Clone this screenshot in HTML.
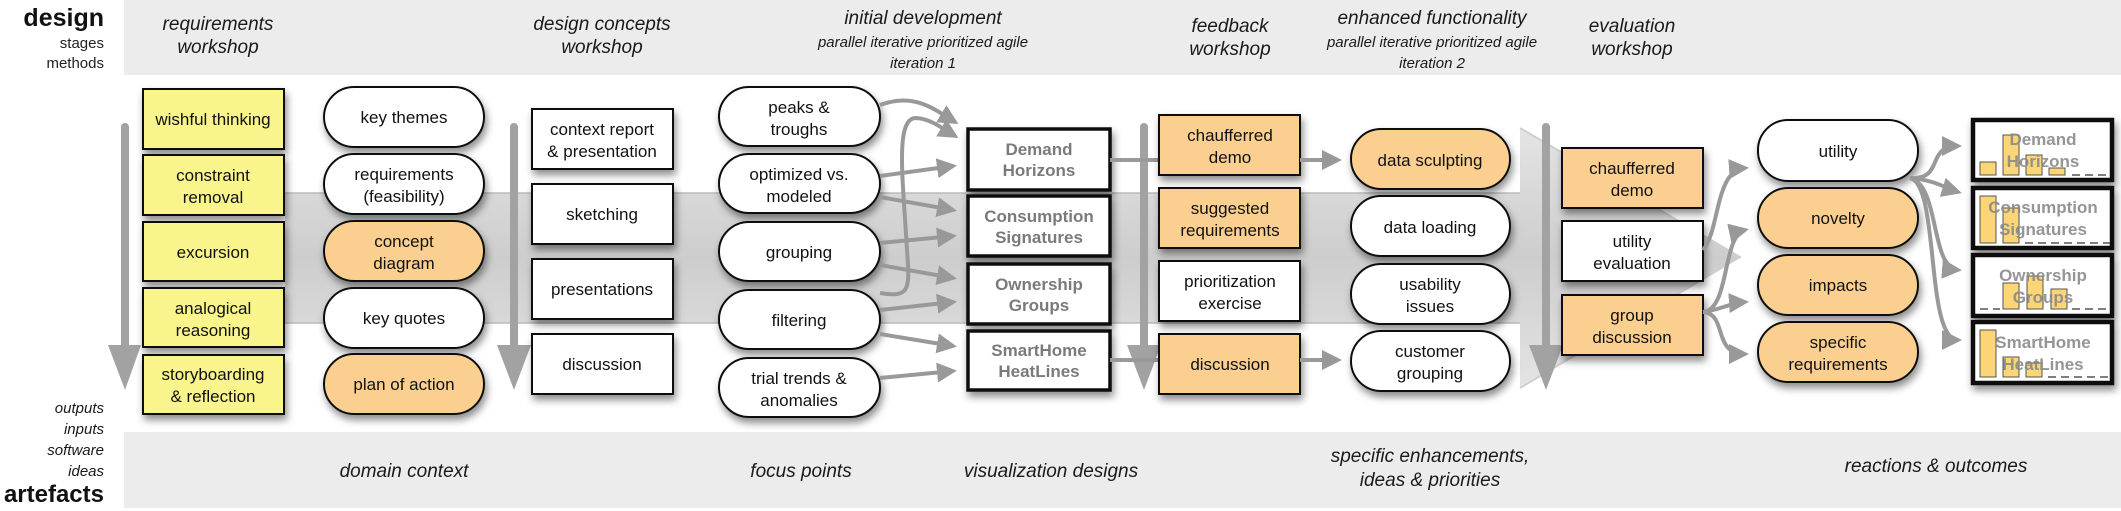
<!DOCTYPE html>
<html><head><meta charset="utf-8"><style>
html,body{margin:0;padding:0;background:#fff;}
svg{display:block;}
text{font-family:"Liberation Sans",Arial,sans-serif;}
.it{font-style:italic;fill:#1a1a1a;}
.b{font-size:17px;fill:#111;text-anchor:middle;}
.v{font-size:17px;font-weight:bold;fill:#7a7a7a;text-anchor:middle;}
.f{font-size:17px;font-weight:bold;fill:#8a8a8a;text-anchor:middle;}
</style></head><body>
<svg width="2121" height="511" viewBox="0 0 2121 511" xmlns="http://www.w3.org/2000/svg">
<defs>
<filter id="sh" x="-20%" y="-20%" width="150%" height="160%"><feDropShadow dx="2" dy="5" stdDeviation="4" flood-color="#000" flood-opacity="0.45"/></filter>
<linearGradient id="band" x1="0" y1="0" x2="0" y2="1"><stop offset="0" stop-color="#e4e4e4"/><stop offset="0.5" stop-color="#cdcdcd"/><stop offset="1" stop-color="#e4e4e4"/></linearGradient>
<marker id="ah" markerWidth="5" markerHeight="5" refX="4" refY="2.5" orient="auto" markerUnits="strokeWidth"><path d="M0,0 L5,2.5 L0,5 z" fill="#999"/></marker>
</defs>
<rect x="124" y="0" width="1997" height="75" fill="#ececec"/>
<rect x="124" y="432" width="1997" height="76" fill="#ececec"/>
<text x="104" y="26" font-size="25" font-weight="bold" text-anchor="end" fill="#111">design</text>
<text x="104" y="48" font-size="15" text-anchor="end" fill="#222">stages</text>
<text x="104" y="68" font-size="15" text-anchor="end" fill="#222">methods</text>
<g class="it" font-size="15" text-anchor="end">
<text x="104" y="413">outputs</text><text x="104" y="434">inputs</text><text x="104" y="455">software</text><text x="104" y="476">ideas</text></g>
<text x="104" y="502" font-size="24" font-weight="bold" text-anchor="end" fill="#111">artefacts</text>
<g class="it" font-size="19" text-anchor="middle">
<text x="218" y="30">requirements</text><text x="218" y="53">workshop</text>
<text x="602" y="30">design concepts</text><text x="602" y="53">workshop</text>
<text x="923" y="24">initial development</text>
<text x="1230" y="32">feedback</text><text x="1230" y="55">workshop</text>
<text x="1432" y="24">enhanced functionality</text>
<text x="1632" y="32">evaluation</text><text x="1632" y="55">workshop</text>
<text x="404" y="477">domain context</text>
<text x="801" y="477">focus points</text>
<text x="1051" y="477">visualization designs</text>
<text x="1430" y="462">specific enhancements,</text><text x="1430" y="486">ideas &amp; priorities</text>
<text x="1936" y="472">reactions &amp; outcomes</text>
</g>
<g class="it" font-size="15" text-anchor="middle">
<text x="923" y="47">parallel iterative prioritized agile</text><text x="923" y="68">iteration 1</text>
<text x="1432" y="47">parallel iterative prioritized agile</text><text x="1432" y="68">iteration 2</text>
</g>
<path d="M285,193 L1520,193 L1520,128 L1740,257 L1520,388 L1520,323 L285,323 Z" fill="url(#band)"/>
<line x1="285" y1="193" x2="1520" y2="193" stroke="#bbb" stroke-width="1.5"/>
<line x1="285" y1="323" x2="1520" y2="323" stroke="#bbb" stroke-width="1.5"/>
<path d="M1520,128 L1740,257 L1520,388" fill="none" stroke="#cfcfcf" stroke-width="2"/>
<g fill="#a2a2a2">
<rect x="121" y="123" width="8" height="230" rx="4"/><path d="M108,345 L141,345 L125,390 Z"/>
<rect x="510" y="123" width="8" height="230" rx="4"/><path d="M497,345 L531,345 L514,390 Z"/>
<rect x="1140" y="123" width="8" height="230" rx="4"/><path d="M1127,345 L1161,345 L1144,390 Z"/>
<rect x="1542" y="123" width="8" height="230" rx="4"/><path d="M1529,345 L1563,345 L1546,390 Z"/>
</g>
<g filter="url(#sh)" fill="#faf48c" stroke="#111" stroke-width="2">
<rect x="143" y="89" width="141" height="60"/><rect x="143" y="155" width="141" height="60"/><rect x="143" y="222" width="141" height="59"/><rect x="143" y="288" width="141" height="59"/><rect x="143" y="355" width="141" height="59"/>
</g>
<g class="b">
<text x="213" y="125">wishful thinking</text>
<text x="213" y="181">constraint</text><text x="213" y="203">removal</text>
<text x="213" y="258">excursion</text>
<text x="213" y="314">analogical</text><text x="213" y="336">reasoning</text>
<text x="213" y="380">storyboarding</text><text x="213" y="402">&amp; reflection</text>
</g>
<g filter="url(#sh)" stroke="#111" stroke-width="2">
<rect x="324" y="87" width="160" height="60" rx="30" fill="#fff"/>
<rect x="324" y="154" width="160" height="60" rx="30" fill="#fff"/>
<rect x="324" y="221" width="160" height="60" rx="30" fill="#fbcf8f"/>
<rect x="324" y="288" width="160" height="60" rx="30" fill="#fff"/>
<rect x="324" y="354" width="160" height="60" rx="30" fill="#fbcf8f"/>
</g>
<g class="b">
<text x="404" y="123">key themes</text>
<text x="404" y="180">requirements</text><text x="404" y="202">(feasibility)</text>
<text x="404" y="247">concept</text><text x="404" y="269">diagram</text>
<text x="404" y="324">key quotes</text>
<text x="404" y="390">plan of action</text>
</g>
<g filter="url(#sh)" stroke="#111" stroke-width="2" fill="#fff">
<rect x="532" y="109" width="141" height="60"/><rect x="532" y="184" width="141" height="60"/><rect x="532" y="259" width="141" height="60"/><rect x="532" y="334" width="141" height="60"/>
</g>
<g class="b">
<text x="602" y="135">context report</text><text x="602" y="157">&amp; presentation</text>
<text x="602" y="220">sketching</text>
<text x="602" y="295">presentations</text>
<text x="602" y="370">discussion</text>
</g>
<g filter="url(#sh)" stroke="#111" stroke-width="2" fill="#fff">
<rect x="719" y="87" width="161" height="59" rx="30"/><rect x="719" y="154" width="161" height="59" rx="30"/><rect x="719" y="222" width="161" height="59" rx="30"/><rect x="719" y="290" width="161" height="59" rx="30"/><rect x="719" y="358" width="161" height="59" rx="30"/>
</g>
<g class="b">
<text x="799" y="113">peaks &amp;</text><text x="799" y="135">troughs</text>
<text x="799" y="180">optimized vs.</text><text x="799" y="202">modeled</text>
<text x="799" y="258">grouping</text>
<text x="799" y="326">filtering</text>
<text x="799" y="384">trial trends &amp;</text><text x="799" y="406">anomalies</text>
</g>
<g fill="none" stroke="#999" stroke-width="4" marker-end="url(#ah)">
<path d="M880,105 C915,92 935,110 955,122"/>
<path d="M880,293 C910,298 910,290 907,250 C903,180 895,120 915,118 C930,118 945,130 955,136"/>
<path d="M880,176 L953,166"/>
<path d="M880,197 L953,210"/>
<path d="M880,243 L953,236"/>
<path d="M880,265 L953,278"/>
<path d="M880,310 L953,302"/>
<path d="M880,334 L953,346"/>
<path d="M880,378 L953,371"/>
</g>
<g filter="url(#sh)" stroke="#111" stroke-width="3.5" fill="#fff">
<rect x="968" y="129" width="142" height="61"/><rect x="968" y="196" width="142" height="60"/><rect x="968" y="264" width="142" height="60"/><rect x="968" y="331" width="142" height="59"/>
</g>
<g class="v">
<text x="1039" y="155">Demand</text><text x="1039" y="176">Horizons</text>
<text x="1039" y="222">Consumption</text><text x="1039" y="243">Signatures</text>
<text x="1039" y="290">Ownership</text><text x="1039" y="311">Groups</text>
<text x="1039" y="356">SmartHome</text><text x="1039" y="377">HeatLines</text>
</g>
<g stroke="#999" stroke-width="4"><line x1="1110" y1="160" x2="1159" y2="160"/><line x1="1110" y1="360" x2="1159" y2="360"/></g>
<g filter="url(#sh)" stroke="#111" stroke-width="2">
<rect x="1159" y="115" width="141" height="60" fill="#fbcf8f"/><rect x="1159" y="188" width="141" height="60" fill="#fbcf8f"/><rect x="1159" y="261" width="141" height="60" fill="#fff"/><rect x="1159" y="334" width="141" height="60" fill="#fbcf8f"/>
</g>
<g class="b">
<text x="1230" y="141">chaufferred</text><text x="1230" y="163">demo</text>
<text x="1230" y="214">suggested</text><text x="1230" y="236">requirements</text>
<text x="1230" y="287">prioritization</text><text x="1230" y="309">exercise</text>
<text x="1230" y="370">discussion</text>
</g>
<g fill="none" stroke="#999" stroke-width="4" marker-end="url(#ah)">
<path d="M1300,160 L1338,160"/><path d="M1300,360 L1338,360"/>
</g>
<g filter="url(#sh)" stroke="#111" stroke-width="2">
<rect x="1351" y="129" width="159" height="60" rx="30" fill="#fbcf8f"/>
<rect x="1351" y="196" width="159" height="60" rx="30" fill="#fff"/>
<rect x="1351" y="264" width="159" height="60" rx="30" fill="#fff"/>
<rect x="1351" y="331" width="159" height="60" rx="30" fill="#fff"/>
</g>
<g class="b">
<text x="1430" y="166">data sculpting</text>
<text x="1430" y="233">data loading</text>
<text x="1430" y="290">usability</text><text x="1430" y="312">issues</text>
<text x="1430" y="357">customer</text><text x="1430" y="379">grouping</text>
</g>
<g filter="url(#sh)" stroke="#111" stroke-width="2">
<rect x="1562" y="148" width="141" height="60" fill="#fbcf8f"/><rect x="1562" y="221" width="141" height="60" fill="#fff"/><rect x="1562" y="295" width="141" height="60" fill="#fbcf8f"/>
</g>
<g class="b">
<text x="1632" y="174">chaufferred</text><text x="1632" y="196">demo</text>
<text x="1632" y="247">utility</text><text x="1632" y="269">evaluation</text>
<text x="1632" y="321">group</text><text x="1632" y="343">discussion</text>
</g>
<g fill="none" stroke="#999" stroke-width="4" marker-end="url(#ah)">
<path d="M1703,250 C1720,230 1715,170 1745,168"/>
<path d="M1703,312 C1730,310 1722,235 1745,230"/>
<path d="M1703,312 C1720,310 1730,303 1745,302"/>
<path d="M1703,312 C1728,314 1712,354 1745,354"/>
</g>
<g filter="url(#sh)" stroke="#111" stroke-width="2">
<rect x="1758" y="120" width="160" height="61" rx="30" fill="#fff"/>
<rect x="1758" y="188" width="160" height="60" rx="30" fill="#fbcf8f"/>
<rect x="1758" y="255" width="160" height="60" rx="30" fill="#fbcf8f"/>
<rect x="1758" y="322" width="160" height="60" rx="30" fill="#fbcf8f"/>
</g>
<g class="b">
<text x="1838" y="157">utility</text>
<text x="1838" y="224">novelty</text>
<text x="1838" y="291">impacts</text>
<text x="1838" y="348">specific</text><text x="1838" y="370">requirements</text>
</g>
<g fill="none" stroke="#999" stroke-width="4" marker-end="url(#ah)">
<path d="M1910,178 C1945,180 1925,146 1958,146"/>
<path d="M1910,178 C1935,180 1945,188 1958,192"/>
<path d="M1910,178 C1940,185 1930,268 1958,270"/>
<path d="M1910,178 C1940,185 1925,340 1958,340"/>
</g>
<g filter="url(#sh)" stroke="#111" stroke-width="4.5" fill="#fff">
<rect x="1973" y="120" width="139" height="60"/><rect x="1973" y="188" width="139" height="60"/><rect x="1973" y="255" width="139" height="61"/><rect x="1973" y="322" width="139" height="61"/>
</g>
<g fill="#fcd576" stroke="#555" stroke-width="1">
<rect x="1980" y="162" width="16" height="13"/><rect x="2003" y="135" width="16" height="40"/><rect x="2026" y="155" width="16" height="20"/><rect x="2049" y="168" width="16" height="7"/>
<rect x="1980" y="196" width="16" height="47"/><rect x="2003" y="208" width="16" height="35"/>
<rect x="2003" y="283" width="16" height="26"/><rect x="2027" y="276" width="16" height="33"/><rect x="2051" y="289" width="16" height="20"/>
<rect x="1980" y="330" width="16" height="47"/><rect x="2003" y="357" width="16" height="20"/><rect x="2026" y="363" width="16" height="14"/>
</g>
<g stroke="#333" stroke-width="1.2" stroke-dasharray="8,5">
<line x1="2072" y1="175" x2="2110" y2="175"/><line x1="2025" y1="243" x2="2110" y2="243"/>
<line x1="1980" y1="309" x2="2000" y2="309"/><line x1="2072" y1="309" x2="2110" y2="309"/>
<line x1="2048" y1="377" x2="2110" y2="377"/>
</g>
<g class="f" opacity="0.9">
<text x="2043" y="145">Demand</text><text x="2043" y="167">Horizons</text>
<text x="2043" y="213">Consumption</text><text x="2043" y="235">Signatures</text>
<text x="2043" y="281">Ownership</text><text x="2043" y="303">Groups</text>
<text x="2043" y="348">SmartHome</text><text x="2043" y="370">HeatLines</text>
</g>
</svg>
</body></html>
